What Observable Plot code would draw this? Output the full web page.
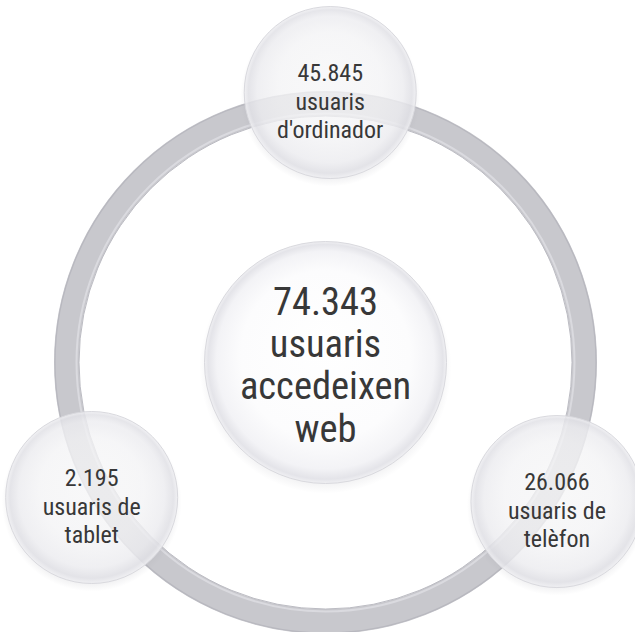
<!DOCTYPE html>
<html>
<head>
<meta charset="utf-8">
<script src="https://cdn.jsdelivr.net/npm/d3@7"></script>
<script src="https://cdn.jsdelivr.net/npm/@observablehq/plot@0.6"></script>
<style>
  html, body { margin: 0; padding: 0; background: #ffffff; }
  #chart { width: 635px; height: 632px; }
</style>
</head>
<body>
<div id="chart"></div>
<script>
// ---- data ----
const totalLabel = ["usuaris", "accedeixen", "web"];
const totalValue = 74343;
const deviceNames = ["ordinador", "telèfon", "tablet"];
const deviceLabels = [["usuaris", "d'ordinador"], ["usuaris de", "telèfon"], ["usuaris de", "tablet"]];
const deviceValues = [45845, 26066, 2195];

// ---- layout (not data) ----
const W = 635, H = 632;
const hub = {x: 325, y: 362};
const ringR = 258;      // mid radius of grey ring
const orbitR = 270;     // distance of satellite circles from hub
const hubR = 121;
const satR = 86;
const angles = [-89, 31, 150];

const fmt = d3.formatLocale({decimal: ",", thousands: ".", grouping: [3], currency: ["", "€"]}).format(",d");

const centre = [{...hub, label: [fmt(totalValue), ...totalLabel].join("\n")}];
const nodes = deviceValues.map((v, i) => {
  const a = angles[i] * Math.PI / 180;
  return {
    name: deviceNames[i],
    x: hub.x + orbitR * Math.cos(a),
    y: hub.y + orbitR * Math.sin(a),
    label: [fmt(v), ...deviceLabels[i]].join("\n")
  };
});

const font = "'Liberation Sans Narrow', 'Arial Narrow', 'Roboto Condensed', 'DejaVu Sans Condensed', sans-serif";

const chart = Plot.plot({
  width: W,
  height: H,
  margin: 0,
  x: {domain: [0, W], range: [0, W], axis: null},
  y: {domain: [0, H], range: [0, H], axis: null},
  style: {background: "#ffffff", fontFamily: font},
  marks: [
    // grey ring
    Plot.dot(centre, {x: "x", y: "y", r: ringR + 1, fill: "none", stroke: "#c8c8cd", strokeWidth: 25}),
    Plot.dot(centre, {x: "x", y: "y", r: ringR + 12.5, fill: "none", stroke: "#b8b8bf", strokeWidth: 1.2}),
    Plot.dot(centre, {x: "x", y: "y", r: ringR - 9, fill: "none", stroke: "#dadadf", strokeWidth: 2}),
    Plot.dot(centre, {x: "x", y: "y", r: ringR - 11.5, fill: "none", stroke: "#bcbcc3", strokeWidth: 1}),
    // shadows
    Plot.dot(nodes, {x: "x", y: "y", r: satR + 4, dy: 4, fill: "url(#shadowGrad)", stroke: "none"}),
    Plot.dot(centre, {x: "x", y: "y", r: hubR + 5, dy: 5, fill: "url(#shadowGrad)", stroke: "none"}),
    // glass circles
    Plot.dot(nodes, {x: "x", y: "y", r: satR, fill: "url(#glassSat)", stroke: "#d9d9de", strokeWidth: 1}),
    Plot.dot(centre, {x: "x", y: "y", r: hubR, fill: "url(#glassHub)", stroke: "#d9d9de", strokeWidth: 1}),
    // labels
    Plot.text(nodes, {x: "x", y: "y", dy: 8, text: "label", fontSize: 24, fontWeight: 400, lineHeight: 1.17, fill: "#383838", fontFamily: font}),
    Plot.text(centre, {x: "x", y: "y", dy: 2, text: "label", fontSize: 38.5, fontWeight: 400, lineHeight: 1.1, fill: "#383838", fontFamily: font})
  ]
});

// gradient definitions
const ns = "http://www.w3.org/2000/svg";
const defs = document.createElementNS(ns, "defs");
defs.innerHTML = `
  <radialGradient id="glassSat" cx="0.5" cy="0.5" r="0.5" fx="0.5" fy="0.38">
    <stop offset="0" stop-color="#ffffff" stop-opacity="0.7"/>
    <stop offset="0.6" stop-color="#fbfbfc" stop-opacity="0.72"/>
    <stop offset="0.85" stop-color="#f1f1f4" stop-opacity="0.78"/>
    <stop offset="0.95" stop-color="#e2e2e7" stop-opacity="0.85"/>
    <stop offset="1" stop-color="#f0f0f3" stop-opacity="0.9"/>
  </radialGradient>
  <radialGradient id="glassHub" cx="0.5" cy="0.5" r="0.5" fx="0.5" fy="0.4">
    <stop offset="0" stop-color="#ffffff"/>
    <stop offset="0.7" stop-color="#fcfcfd"/>
    <stop offset="0.9" stop-color="#f3f3f6"/>
    <stop offset="0.97" stop-color="#e4e4e9"/>
    <stop offset="1" stop-color="#f0f0f3"/>
  </radialGradient>
  <radialGradient id="shadowGrad" cx="0.5" cy="0.5" r="0.5">
    <stop offset="0.85" stop-color="#9a9aa4" stop-opacity="0.22"/>
    <stop offset="1" stop-color="#9a9aa4" stop-opacity="0"/>
  </radialGradient>`;
chart.insertBefore(defs, chart.firstChild);

document.getElementById("chart").appendChild(chart);
</script>
</body>
</html>
